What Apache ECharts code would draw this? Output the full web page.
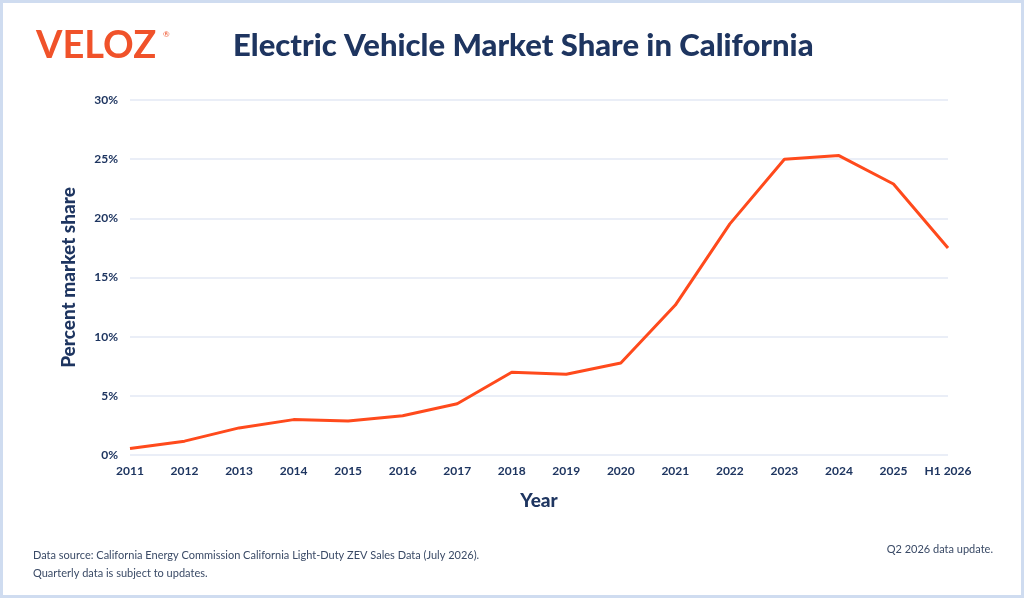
<!DOCTYPE html>
<html>
<head>
<meta charset="utf-8">
<script src="https://cdn.jsdelivr.net/npm/echarts@6/dist/echarts.min.js"></script>
<style>
html,body{margin:0;padding:0;background:#fff;}
#wrap{position:absolute;left:0;top:0;width:1024px;height:598px;box-sizing:border-box;border:3px solid #cfdcf0;}
#chart{position:absolute;left:0;top:0;width:1024px;height:598px;}
</style>
</head>
<body>
<div id="wrap"></div>
<div id="chart"></div>
<script>
const years = ['2011','2012','2013','2014','2015','2016','2017','2018','2019','2020','2021','2022','2023','2024','2025','H1 2026'];
const share = [0.55, 1.17, 2.29, 2.99, 2.88, 3.32, 4.33, 6.99, 6.82, 7.78, 12.67, 19.53, 25.0, 25.3, 22.9, 17.5];
const yTicks = [0, 5, 10, 15, 20, 25, 30];

const navy = '#1e3560';
const orange = '#ff4a1c';
const chart = echarts.init(document.getElementById('chart'));
chart.setOption({
  animation: false,
  textStyle: {fontFamily: 'Lato'},
  grid: {left: 130, right: 76, top: 100, bottom: 143, containLabel: false},
  graphic: [
    {type: 'text', left: 36, top: 27, style: {text: 'VELOZ', fill: '#f0522a', font: 'bold 38px Lato'}},
    {type: 'text', left: 163, top: 30, style: {text: '®', fill: '#f0522a', font: '8px Lato'}},
    {type: 'text', left: 233, top: 30, style: {text: 'Electric Vehicle Market Share in California', fill: navy, font: '900 31px Lato'}},
    {type: 'text', left: 33, top: 550, style: {text: 'Data source: California Energy Commission California Light-Duty ZEV Sales Data (July 2026).', fill: '#3a4a66', font: '11px Lato'}},
    {type: 'text', left: 33, top: 568, style: {text: 'Quarterly data is subject to updates.', fill: '#3a4a66', font: '11px Lato'}},
    {type: 'text', right: 31, top: 544, style: {text: 'Q2 2026 data update.', fill: '#3a4a66', font: '11px Lato'}}
  ],
  xAxis: {
    type: 'category',
    data: years,
    boundaryGap: false,
    name: 'Year',
    nameLocation: 'middle',
    nameGap: 36,
    nameTextStyle: {color: navy, fontSize: 19, fontWeight: 900, fontFamily: 'Lato'},
    axisLine: {show: false},
    axisTick: {show: false},
    axisLabel: {color: navy, fontSize: 12, fontWeight: 'bold', margin: 10, interval: 0}
  },
  yAxis: {
    type: 'value',
    min: 0, max: 30, interval: 5,
    name: 'Percent market share',
    nameLocation: 'middle',
    nameGap: 52,
    nameTextStyle: {color: navy, fontSize: 19, fontWeight: 900, fontFamily: 'Lato'},
    axisLabel: {color: navy, fontSize: 12, fontWeight: 'bold', margin: 12, formatter: v => yTicks.includes(v) ? v + '%' : ''},
    splitLine: {lineStyle: {color: '#e3e8f5', width: 1.5}},
    axisLine: {show: false},
    axisTick: {show: false}
  },
  series: [{
    type: 'line',
    data: share,
    showSymbol: false,
    lineStyle: {color: orange, width: 3},
    itemStyle: {color: orange}
  }]
});
</script>
</body>
</html>
